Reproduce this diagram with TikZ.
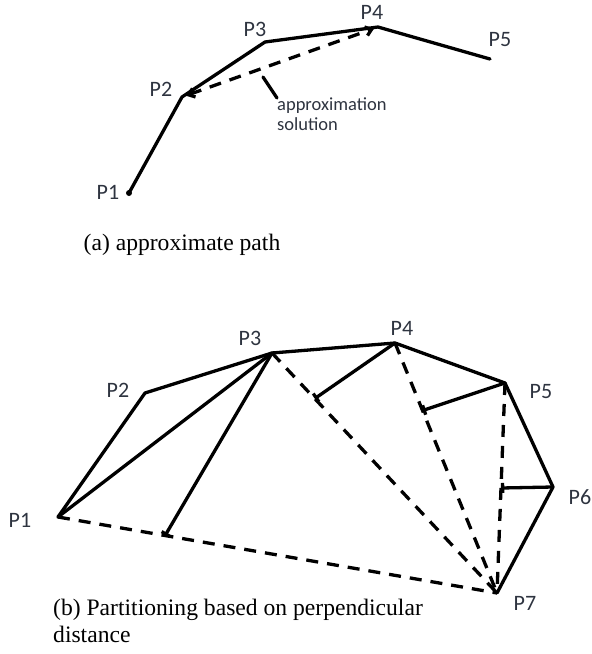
\documentclass[tikz,border=0pt]{standalone}
\usepackage{fontspec}
\setmainfont{Liberation Serif}
\newfontfamily\lblfont{Carlito}
\usetikzlibrary{arrows.meta, calc}
\definecolor{lblink}{HTML}{2E3440}

\begin{document}
\begin{tikzpicture}[
    x=1pt, y=-1pt,
    seg/.style={line width=3.3pt, line cap=round, line join=round},
    dashseg/.style={line width=3.3pt, dash pattern=on 12pt off 9pt},
    foot/.style={seg, -{Bar[width=10pt]}},
    plabel/.style={font=\lblfont\fontsize{22}{24}\selectfont, text=lblink, inner sep=0pt},
    notetext/.style={font=\lblfont\fontsize{18.5}{20}\selectfont, text=lblink, inner sep=0pt, align=left},
    captext/.style={font=\fontsize{23.6}{27}\selectfont, inner sep=0pt},
  ]
  \useasboundingbox (0,0) rectangle (592,654);

  % ===== (a) approximate path =====
  \coordinate (a1) at (129,193);
  \coordinate (a2) at (182,97);
  \coordinate (a3) at (265,42);
  \coordinate (a4) at (378,27);
  \coordinate (a5) at (490,59);

  \draw[seg] (a1) -- (a2) -- (a3) -- (a4) -- (a5);
  \fill (a1) circle (3pt);

  % approximation between P2 and P4
  \draw[dashseg, {Straight Barb[length=6pt, width=9pt]}-{Straight Barb[length=6pt, width=9pt]}]
    ($(a2)!4pt!(a4)$) -- ($(a4)!4pt!(a2)$);
  \coordinate (ptr) at (263,77);
  \node[notetext, anchor=north west] (note) at (277,98) {approximation\\solution};
  \draw[seg] (ptr) -- (note.north west);

  \node[plabel] (la1) at (108,192) {P1};
  \node[plabel] (la2) at (161,89) {P2};
  \node[plabel] (la3) at (255,29) {P3};
  \node[plabel] (la4) at (372,12) {P4};
  \node[plabel] (la5) at (500,40) {P5};

  \node[captext] (capa) at (182,245) {(a) approximate path};

  % ===== (b) partitioning =====
  \coordinate (b1) at (58,517);
  \coordinate (b2) at (145,393);
  \coordinate (b3) at (272,353);
  \coordinate (b4) at (395,343);
  \coordinate (b5) at (505,383);
  \coordinate (b6) at (553,487);
  \coordinate (b7) at (497,593);

  % path and chords
  \draw[seg] (b1) -- (b2) -- (b3) -- (b4) -- (b5) -- (b6) -- (b7);
  \draw[seg] (b1) -- (b3);

  % dashed chords to P7
  \draw[dashseg] (b1) -- (b7);
  \draw[dashseg] (b3) -- (b7);
  \draw[dashseg] (b4) -- (b7);
  \draw[dashseg] (b5) -- (b7);

  % perpendiculars
  \coordinate (f3) at ($(b1)!0.244!(b7)$);
  \coordinate (f4) at ($(b3)!0.19!(b7)$);
  \coordinate (f5) at ($(b4)!0.27!(b7)$);
  \coordinate (f6) at ($(b5)!0.5!(b7)$);
  \draw[foot] (b3) -- (f3);
  \draw[foot] (b4) -- (f4);
  \draw[foot] (b5) -- (f5);
  \draw[foot] (b6) -- (f6);

  \node[plabel] (lb1) at (20,520) {P1};
  \node[plabel] (lb2) at (118,390) {P2};
  \node[plabel] (lb3) at (250,338) {P3};
  \node[plabel] (lb4) at (402,328) {P4};
  \node[plabel] (lb5) at (541,392) {P5};
  \node[plabel] (lb6) at (580,497) {P6};
  \node[plabel] (lb7) at (525,603) {P7};

  \node[captext, anchor=north west, align=left] (capb) at (53,599)
    {(b) Partitioning based on perpendicular\\distance};

\end{tikzpicture}
\end{document}
